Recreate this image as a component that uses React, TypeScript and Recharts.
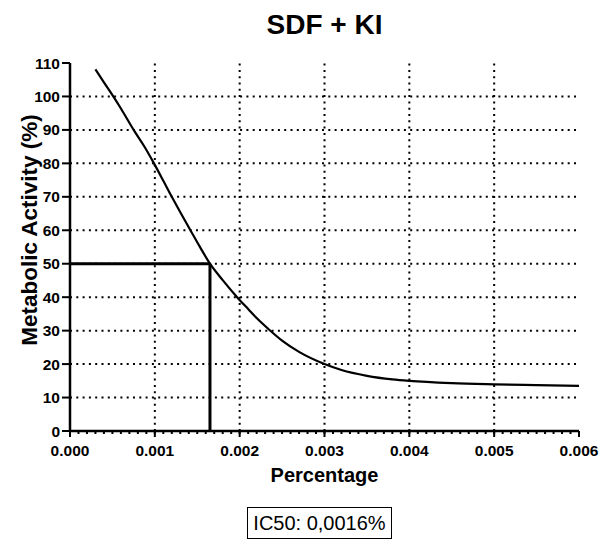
import React from 'react';
import { LineChart, Line, XAxis, YAxis, ReferenceLine } from 'recharts';

const FONT = '"Liberation Sans", Arial, sans-serif';

const title = 'SDF + KI';
const xLabel = 'Percentage';
const yLabel = 'Metabolic Activity (%)';
const ic50Text = 'IC50: 0,0016%';

const xValues = [0.0003, 0.0004, 0.00051, 0.0006, 0.00075, 0.00088, 0.00099, 0.0011, 0.0012, 0.0013, 0.00142, 0.00153, 0.00165, 0.0018, 0.00197, 0.0021, 0.0022, 0.00236, 0.0025, 0.0027, 0.003, 0.0032, 0.0035, 0.0038, 0.004, 0.0045, 0.005, 0.0055, 0.006];
const activity = [108.1, 104.2, 100, 96.4, 90, 84.9, 80, 74.8, 70, 65.4, 60, 55.1, 50, 45.1, 40, 36.45, 33.75, 30, 27.0, 23.64, 20, 18.22, 16.49, 15.42, 14.97, 14.3, 13.95, 13.7, 13.5];

const ic50X = 0.00165;
const ic50Y = 50;

const xAllTicks = Array.from({ length: 61 }, (_, i) => i / 10000);
const yTicks = [0, 10, 20, 30, 40, 50, 60, 70, 80, 90, 100, 110];
const xGrid = [0.001, 0.002, 0.003, 0.004, 0.005];
const yGrid = [10, 20, 30, 40, 50, 60, 70, 80, 90, 100];

const data = xValues.map((x, i) => ({ x, y: activity[i] }));

const X_TICK_SIZE = 3;
const X_TICK_MARGIN = 11;

const XTick = (props: any) => {
  const { x, y, payload } = props;
  const v = payload.value;
  const isMajor = Math.round(v * 10000) % 10 === 0;
  if (!isMajor) return <g />;
  const axisY = y - X_TICK_SIZE - X_TICK_MARGIN;
  return (
    <g>
      <line x1={x} x2={x} y1={axisY} y2={axisY + 6} stroke="#000" strokeWidth={2} />
      <text x={x} y={y} dy="0.71em" textAnchor="middle" fontFamily={FONT} fontWeight="bold" fontSize={15.5} fill="#000">
        {v.toFixed(3)}
      </text>
    </g>
  );
};

const YLabel = (props: any) => {
  const vb = props.viewBox || {};
  const cx = (vb.x || 0) + 36.7;
  const cy = (vb.y || 0) + (vb.height || 0) / 2 - 17;
  return (
    <text transform={`translate(${cx},${cy}) rotate(-90)`} textAnchor="middle" fontFamily={FONT} fontWeight="bold" fontSize={22.5} fill="#000">
      {yLabel}
    </text>
  );
};

const XLabel = (props: any) => {
  const vb = props.viewBox || {};
  const cx = (vb.x || 0) + (vb.width || 0) / 2;
  const by = (vb.y || 0) + 50.7;
  return (
    <text x={cx} y={by} textAnchor="middle" fontFamily={FONT} fontWeight="bold" fontSize={20} fill="#000">
      {xLabel}
    </text>
  );
};

export default function App() {
  return (
    <div style={{ position: 'relative', width: 601, height: 539, fontFamily: FONT, background: '#fff' }}>
      <style>{'body{margin:0}'}</style>
      <div style={{ position: 'absolute', left: 0, width: 649, top: 11.3, textAlign: 'center', fontSize: 28, lineHeight: '28px', fontWeight: 'bold', color: '#000' }}>
        {title}
      </div>
      <LineChart width={601} height={539} data={data} margin={{ top: 63, right: 22, bottom: 48, left: 0 }}>
        {xGrid.map((v) => (
          <ReferenceLine key={'gx' + v} x={v} stroke="#000" strokeWidth={2} strokeDasharray="2 4.3" />
        ))}
        {yGrid.map((v) => (
          <ReferenceLine key={'gy' + v} y={v} stroke="#000" strokeWidth={2} strokeDasharray="2 4.3" />
        ))}
        <XAxis
          dataKey="x"
          type="number"
          domain={[0, 0.006]}
          ticks={xAllTicks}
          interval={0}
          height={60}
          tickSize={X_TICK_SIZE}
          tickMargin={X_TICK_MARGIN}
          axisLine={{ stroke: '#000', strokeWidth: 2.5 }}
          tickLine={{ stroke: '#000', strokeWidth: 2 }}
          tick={<XTick />}
          label={<XLabel />}
        />
        <YAxis
          type="number"
          domain={[0, 110]}
          ticks={yTicks}
          interval={0}
          width={70}
          tickSize={8}
          tickMargin={2}
          axisLine={{ stroke: '#000', strokeWidth: 2.5 }}
          tickLine={{ stroke: '#000', strokeWidth: 2 }}
          tick={{ fill: '#000', fontSize: 15.5, fontWeight: 'bold', fontFamily: FONT }}
          label={<YLabel />}
        />
        <ReferenceLine segment={[{ x: 0, y: ic50Y }, { x: ic50X, y: ic50Y }]} stroke="#000" strokeWidth={3} />
        <ReferenceLine segment={[{ x: ic50X, y: 0 }, { x: ic50X, y: ic50Y }]} stroke="#000" strokeWidth={3} />
        <Line dataKey="y" type="monotone" stroke="#000" strokeWidth={2.2} dot={false} isAnimationActive={false} />
      </LineChart>
      <div style={{ position: 'absolute', left: 247, top: 507, width: 145, height: 32, boxSizing: 'border-box', border: '1.5px solid #000', display: 'flex', alignItems: 'center', justifyContent: 'center', fontSize: 20, color: '#000', background: '#fff' }}>
        {ic50Text}
      </div>
    </div>
  );
}
